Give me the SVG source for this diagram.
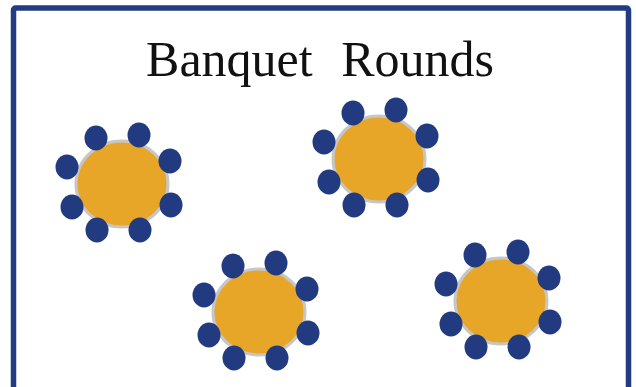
<svg xmlns="http://www.w3.org/2000/svg" width="636" height="387" viewBox="0 0 636 387">
<style>
.frame{fill:#ffffff;stroke:#223b82;stroke-width:5.5}
.title{font-family:"Liberation Serif","Times New Roman",serif;font-size:50px;fill:#111111;word-spacing:16px}
.top{fill:#e8a628;stroke:#c6c6c6;stroke-width:3}
.chair{fill:#213a80}
</style>
<rect class="frame" x="13.5" y="8" width="615" height="400" rx="2"/>
<text class="title" x="320" y="76" text-anchor="middle">Banquet Rounds</text>
<g id="table1" transform="translate(122,184)">
<ellipse class="top" cx="0" cy="0" rx="46" ry="43"/>
<ellipse class="chair" cx="-26" cy="-46" rx="11.5" ry="12.5"/>
<ellipse class="chair" cx="17" cy="-49" rx="11.5" ry="12.5"/>
<ellipse class="chair" cx="-55" cy="-17" rx="11.5" ry="12.5"/>
<ellipse class="chair" cx="48" cy="-23" rx="11.5" ry="12.5"/>
<ellipse class="chair" cx="-50" cy="23" rx="11.5" ry="12.5"/>
<ellipse class="chair" cx="49" cy="21" rx="11.5" ry="12.5"/>
<ellipse class="chair" cx="-25" cy="46" rx="11.5" ry="12.5"/>
<ellipse class="chair" cx="18" cy="46" rx="11.5" ry="12.5"/>
</g>
<g id="table2" transform="translate(379,159)">
<ellipse class="top" cx="0" cy="0" rx="46" ry="43"/>
<ellipse class="chair" cx="-26" cy="-46" rx="11.5" ry="12.5"/>
<ellipse class="chair" cx="17" cy="-49" rx="11.5" ry="12.5"/>
<ellipse class="chair" cx="-55" cy="-17" rx="11.5" ry="12.5"/>
<ellipse class="chair" cx="48" cy="-23" rx="11.5" ry="12.5"/>
<ellipse class="chair" cx="-50" cy="23" rx="11.5" ry="12.5"/>
<ellipse class="chair" cx="49" cy="21" rx="11.5" ry="12.5"/>
<ellipse class="chair" cx="-25" cy="46" rx="11.5" ry="12.5"/>
<ellipse class="chair" cx="18" cy="46" rx="11.5" ry="12.5"/>
</g>
<g id="table3" transform="translate(259,312)">
<ellipse class="top" cx="0" cy="0" rx="46" ry="43"/>
<ellipse class="chair" cx="-26" cy="-46" rx="11.5" ry="12.5"/>
<ellipse class="chair" cx="17" cy="-49" rx="11.5" ry="12.5"/>
<ellipse class="chair" cx="-55" cy="-17" rx="11.5" ry="12.5"/>
<ellipse class="chair" cx="48" cy="-23" rx="11.5" ry="12.5"/>
<ellipse class="chair" cx="-50" cy="23" rx="11.5" ry="12.5"/>
<ellipse class="chair" cx="49" cy="21" rx="11.5" ry="12.5"/>
<ellipse class="chair" cx="-25" cy="46" rx="11.5" ry="12.5"/>
<ellipse class="chair" cx="18" cy="46" rx="11.5" ry="12.5"/>
</g>
<g id="table4" transform="translate(501,301)">
<ellipse class="top" cx="0" cy="0" rx="46" ry="43"/>
<ellipse class="chair" cx="-26" cy="-46" rx="11.5" ry="12.5"/>
<ellipse class="chair" cx="17" cy="-49" rx="11.5" ry="12.5"/>
<ellipse class="chair" cx="-55" cy="-17" rx="11.5" ry="12.5"/>
<ellipse class="chair" cx="48" cy="-23" rx="11.5" ry="12.5"/>
<ellipse class="chair" cx="-50" cy="23" rx="11.5" ry="12.5"/>
<ellipse class="chair" cx="49" cy="21" rx="11.5" ry="12.5"/>
<ellipse class="chair" cx="-25" cy="46" rx="11.5" ry="12.5"/>
<ellipse class="chair" cx="18" cy="46" rx="11.5" ry="12.5"/>
</g>
<g id="connectors"></g>
</svg>
